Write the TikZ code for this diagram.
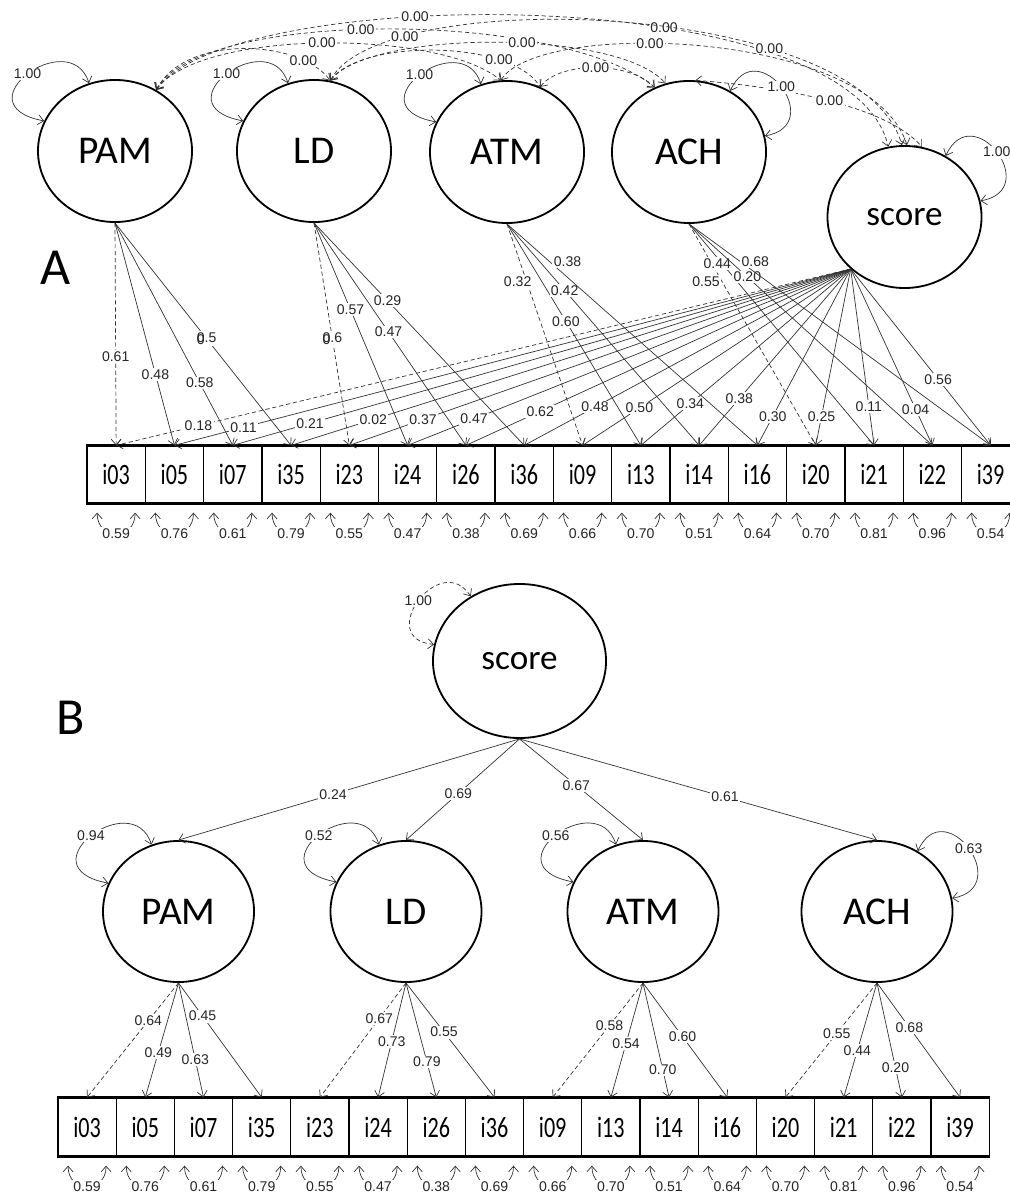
\documentclass[tikz,border=0pt]{standalone}
\usepackage{fontspec}
\setmainfont{Liberation Sans}
\newfontfamily\calibri{Carlito}
\usetikzlibrary{arrows.meta,calc,shapes.geometric}

\tikzset{
  >={Straight Barb[length=4pt,width=7pt]},
  latent/.style={ellipse,draw,line width=1.3pt,inner sep=0pt,
    minimum width=3.85cm,minimum height=3.55cm,
    font=\calibri\fontsize{28}{28}\selectfont},
  item/.style={rectangle,draw,line width=0.9pt,inner sep=0pt,
    minimum width=1.4575cm,minimum height=1.425cm,
    font=\calibri\fontsize{21}{21}\selectfont},
  lab/.style={fill=white,inner sep=1pt,text=black!85,
    font=\fontsize{10}{10}\selectfont},
  load/.style={->,line width=0.5pt,draw=black!80},
  fixed/.style={load,dash pattern=on 3pt off 2pt},
  cov/.style={<->,line width=0.5pt,draw=black!80,dash pattern=on 3pt off 2pt},
  var/.style={<->,line width=0.5pt,draw=black!80},
  panel/.style={font=\calibri\fontsize{37}{37}\selectfont},
  small score/.style={font=\calibri\fontsize{25}{25}\selectfont}
}

% residual variance loop under an item box
\newcommand{\resid}[2]{%
  \draw[var] ($(#1.south)+(-19,9)$) .. controls +(0,28) and +(0,28) ..
    ($(#1.south)+(19,9)$) node[lab,pos=0.5] {#2};}

\begin{document}
\begin{tikzpicture}[x=0.025cm,y=-0.025cm]
\useasboundingbox (0,0) rectangle (1009,1194);

%%%%%%%%%%%%%%%% panel A
\node[panel] (lblA) at (56,268) {A};

\node[latent] (pamA) at (115,151) {PAM};
\node[latent] (ldA) at (314,151) {LD};
\node[latent] (atmA) at (507,152) {ATM};
\node[latent] (achA) at (689,152) {ACH};
\node[latent,small score] (scoreA) at (904.5,217) {score};

\foreach \nm [count=\k from 0] in {i03,i05,i07,i35,i23,i24,i26,i36,i09,i13,i14,i16,i20,i21,i22,i39}{
  \node[item] (a\nm) at ({116.15+58.3*\k},474.5) {\scalebox{0.75}[1]{\nm}};
}
\draw[line width=1.6pt] (ai03.north west) -- (ai39.north east);
\draw[line width=1.6pt] (ai03.south west) -- (ai39.south east);

% covariances between the factors
\draw[cov] (pamA.56) .. controls +(29,-56) and +(-30,-41.5) .. (ldA.77) node[lab,pos=0.8]{0.00};
\draw[cov] (pamA.56) .. controls +(44,-61) and +(-61,-51) .. (atmA.95) node[lab,pos=0.5]{0.00};
\draw[cov] (pamA.56) .. controls +(44,-81) and +(-95,-78) .. (achA.118) node[lab,pos=0.46]{0.00};
\draw[cov] (pamA.56) .. controls +(74,-106) and +(-38.5,-167.5) .. (scoreA.103)
  node[lab,pos=0.38]{0.00} node[lab,pos=0.63]{0.00};
\draw[cov] (ldA.77) .. controls +(30,-41.5) and +(-29.7,-47.8) .. (atmA.63) node[lab,pos=0.75]{0.00};
\draw[cov] (ldA.77) .. controls +(40,-51.5) and +(-45.7,-54.3) .. (achA.109) node[lab,pos=0.56]{0.00};
\draw[cov] (ldA.77) .. controls +(50,-96.5) and +(-42,-146) .. (scoreA.92)
  node[lab,pos=0.2]{0.00} node[lab,pos=0.7]{0.00};
\draw[cov] (atmA.63) .. controls +(20,-26) and +(-25,-26) .. (achA.118) node[lab,pos=0.5]{0.00};
\draw[cov] (atmA.95) .. controls +(39,-61) and +(-37,-116) .. (scoreA.88) node[lab,pos=0.4]{0.00};
\draw[cov] (achA.85) .. controls +(55,4) and +(-42,-48) .. (scoreA.76) node[lab,pos=0.56]{0.00};

% variances of the factors
\foreach \f in {pamA,ldA,atmA}
  \draw[var] (\f.111) .. controls +(-19,-59) and +(-85,-16) .. (\f.157) node[lab,pos=0.5]{1.00};
\foreach \f in {achA,scoreA}
  \draw[var] (\f.56) .. controls +(27,-59) and +(63,-11) .. (\f.12) node[lab,pos=0.5]{1.00};

% loadings on the general factor
\draw[fixed] (scoreA.224) -- node[lab,pos=0.888]{0.18} (ai03.north);
\foreach \t/\l/\p in {i05/0.11/0.898,i07/0.21/0.875,i35/0.02/0.853,i23/0.37/0.853,
    i24/0.47/0.85,i26/0.62/0.807,i36/0.48/0.783,i09/0.50/0.788,i13/0.34/0.764,
    i14/0.38/0.735,i16/0.30/0.835,i20/0.25/0.835,i21/0.11/0.778,i22/0.04/0.795,i39/0.56/0.625}
  \draw[load] (scoreA.224) -- node[lab,pos=\p]{\l} (a\t.north);

% loadings on the specific factors
\draw[fixed] (pamA.south) -- node[lab,pos=0.60]{0.61} (ai03.north);
\foreach \t/\l/\p in {i05/0.48/0.68,i07/0.58/0.72,i35/{\rlap{\raisebox{-1.8pt}{0}}0.5}/0.52}
  \draw[load] (pamA.south) -- node[lab,pos=\p]{\l} (a\t.north);
\draw[fixed] (ldA.south) -- node[lab,pos=0.52]{\rlap{\raisebox{-1.8pt}{0}}0.6} (ai23.north);
\foreach \t/\l/\p in {i24/0.57/0.39,i26/0.47/0.49,i36/0.29/0.35}
  \draw[load] (ldA.south) -- node[lab,pos=\p]{\l} (a\t.north);
\draw[fixed] (atmA.south) -- node[lab,pos=0.26,xshift=-0.225cm]{0.32} (ai09.north);
\draw[load] (atmA.south) -- node[lab,pos=0.44]{0.60} (ai13.north);
\draw[load] (atmA.south) -- node[lab,pos=0.30]{0.42} (ai14.north);
\draw[load] (atmA.south) -- node[lab,pos=0.17,xshift=0.45cm]{0.38} (ai16.north);
\draw[fixed] (achA.south) -- node[lab,pos=0.26,xshift=-0.4cm]{0.55} (ai20.north);
\draw[load] (achA.south) -- node[lab,pos=0.18,xshift=-0.125cm]{0.44} (ai21.north);
\draw[load] (achA.south) -- node[lab,pos=0.24]{0.20} (ai22.north);
\draw[load] (achA.south) -- node[lab,pos=0.17,xshift=0.375cm]{0.68} (ai39.north);

%%%%%%%%%%%%%%%% panel B
\node[panel] (lblB) at (71,718) {B};

\node[latent,small score,minimum width=4.325cm,minimum height=3.85cm] (scoreB) at (519.5,661) {score};
\node[latent,minimum width=3.775cm,minimum height=3.525cm] (pamB) at (178.5,911.5) {PAM};
\node[latent,minimum width=3.775cm,minimum height=3.525cm] (ldB) at (406,911.5) {LD};
\node[latent,minimum width=3.775cm,minimum height=3.525cm] (atmB) at (643,911.5) {ATM};
\node[latent,minimum width=3.775cm,minimum height=3.525cm] (achB) at (877,911.5) {ACH};

\foreach \nm [count=\k from 0] in {i03,i05,i07,i35,i23,i24,i26,i36,i09,i13,i14,i16,i20,i21,i22,i39}{
  \node[item,minimum width=1.455cm,minimum height=1.45cm] (b\nm) at ({87.1+58.2*\k},1127) {\scalebox{0.75}[1]{\nm}};
}
\draw[line width=1.6pt] (bi03.north west) -- (bi39.north east);
\draw[line width=1.6pt] (bi03.south west) -- (bi39.south east);

% variances
\draw[var,dash pattern=on 3pt off 2pt] (scoreB.127) .. controls +(-31,-47) and +(-60,-5) .. (scoreB.169)
  node[lab,pos=0.5]{1.00};
\draw[var] (pamB.112) .. controls +(-19,-59) and +(-85,-16) .. (pamB.158) node[lab,pos=0.5]{0.94};
\draw[var] (ldB.112) .. controls +(-19,-59) and +(-85,-16) .. (ldB.157) node[lab,pos=0.5]{0.52};
\draw[var] (atmB.112) .. controls +(-19,-59) and +(-85,-16) .. (atmB.157) node[lab,pos=0.5]{0.56};
\draw[var] (achB.56) .. controls +(27,-59) and +(63,-11) .. (achB.10) node[lab,pos=0.5]{0.63};

% second order loadings
\draw[load] (scoreB.south) -- node[lab,pos=0.547]{0.24} (pamB.north);
\draw[load] (scoreB.south) -- node[lab,pos=0.54]{0.69} (ldB.north);
\draw[load] (scoreB.south) -- node[lab,pos=0.46]{0.67} (atmB.north);
\draw[load] (scoreB.south) -- node[lab,pos=0.575]{0.61} (achB.north);

% first order loadings
\draw[fixed] (pamB.south) -- node[lab,pos=0.33]{0.64} (bi03.north);
\foreach \t/\l/\p in {i05/0.49/0.61,i07/0.63/0.67,i35/0.45/0.29}
  \draw[load] (pamB.south) -- node[lab,pos=\p]{\l} (b\t.north);
\draw[fixed] (ldB.south) -- node[lab,pos=0.31]{0.67} (bi23.north);
\foreach \t/\l/\p in {i24/0.73/0.51,i26/0.79/0.69,i36/0.55/0.43}
  \draw[load] (ldB.south) -- node[lab,pos=\p]{\l} (b\t.north);
\draw[fixed] (atmB.south) -- node[lab,pos=0.37]{0.58} (bi09.north);
\foreach \t/\l/\p in {i13/0.54/0.53,i14/0.70/0.76,i16/0.60/0.47}
  \draw[load] (atmB.south) -- node[lab,pos=\p]{\l} (b\t.north);
\draw[fixed] (achB.south) -- node[lab,pos=0.44]{0.55} (bi20.north);
\foreach \t/\l/\p in {i21/0.44/0.59,i22/0.20/0.74,i39/0.68/0.39}
  \draw[load] (achB.south) -- node[lab,pos=\p]{\l} (b\t.north);

% residuals of the items, both panels
\foreach \nm/\v in {i03/0.59,i05/0.76,i07/0.61,i35/0.79,i23/0.55,i24/0.47,i26/0.38,i36/0.69,
    i09/0.66,i13/0.70,i14/0.51,i16/0.64,i20/0.70,i21/0.81,i22/0.96,i39/0.54}{
  \resid{a\nm}{\v}
  \resid{b\nm}{\v}
}
\end{tikzpicture}
\end{document}
